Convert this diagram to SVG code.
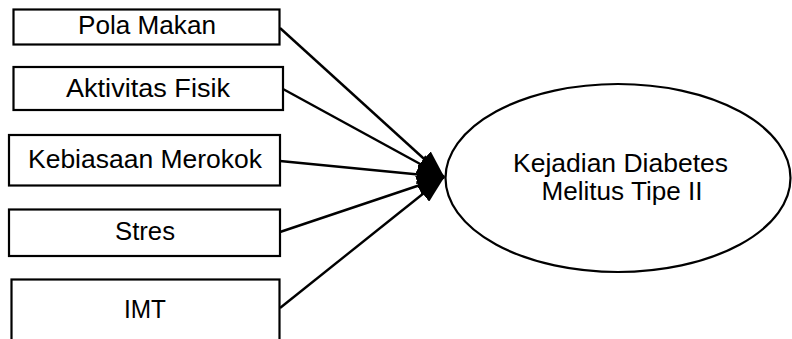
<svg xmlns="http://www.w3.org/2000/svg" width="792" height="339" viewBox="0 0 792 339">
  <style>
    .box { fill: #ffffff; stroke: #000000; stroke-width: 2.2; }
    .oval { fill: #ffffff; stroke: #000000; stroke-width: 2.2; }
    .lbl { font-family: "Liberation Sans", Arial, sans-serif; font-size: 25.5px; fill: #000000; text-anchor: middle; }
    .link { stroke: #000000; stroke-width: 2.4; fill: none; marker-end: url(#head); }
  </style>
  <defs>
    <!-- filled triangular arrowhead, fixed size in user units -->
    <marker id="head" markerUnits="userSpaceOnUse" markerWidth="28" markerHeight="20" refX="27" refY="10" orient="auto">
      <path d="M0,0 L28,10 L0,20 Z" fill="#000000"/>
    </marker>
  </defs>
  <rect width="792" height="339" fill="#ffffff"/>

  <g id="pola-makan">
    <rect class="box" x="13.5" y="9.5" width="266" height="35"/>
    <text class="lbl" x="147" y="33.5" textLength="138" lengthAdjust="spacingAndGlyphs">Pola Makan</text>
  </g>
  <g id="aktivitas-fisik">
    <rect class="box" x="13.5" y="67" width="269.5" height="43"/>
    <text class="lbl" x="148" y="97" textLength="164" lengthAdjust="spacingAndGlyphs">Aktivitas Fisik</text>
  </g>
  <g id="kebiasaan-merokok">
    <rect class="box" x="9" y="135" width="271" height="50.5"/>
    <text class="lbl" x="145" y="168" textLength="234" lengthAdjust="spacingAndGlyphs">Kebiasaan Merokok</text>
  </g>
  <g id="stres">
    <rect class="box" x="9" y="209.5" width="271" height="46.5"/>
    <text class="lbl" x="145" y="240" textLength="60" lengthAdjust="spacingAndGlyphs">Stres</text>
  </g>
  <g id="imt">
    <rect class="box" x="11.5" y="279.5" width="268" height="80"/>
    <text class="lbl" x="145" y="318" textLength="42" lengthAdjust="spacingAndGlyphs">IMT</text>
  </g>

  <g id="kejadian-dm">
    <ellipse class="oval" cx="618" cy="178" rx="172.5" ry="94"/>
    <text class="lbl" x="620.5" y="172" textLength="215" lengthAdjust="spacingAndGlyphs">Kejadian Diabetes</text>
    <text class="lbl" x="622" y="199.5" textLength="161" lengthAdjust="spacingAndGlyphs">Melitus Tipe II</text>
  </g>

  <g id="connectors">
    <line class="link" x1="280" y1="28" x2="444" y2="177"/>
    <line class="link" x1="283" y1="89" x2="444" y2="177"/>
    <line class="link" x1="280" y1="161" x2="444" y2="177"/>
    <line class="link" x1="280" y1="232" x2="444" y2="177"/>
    <line class="link" x1="280" y1="308" x2="444" y2="177"/>
  </g>
</svg>
